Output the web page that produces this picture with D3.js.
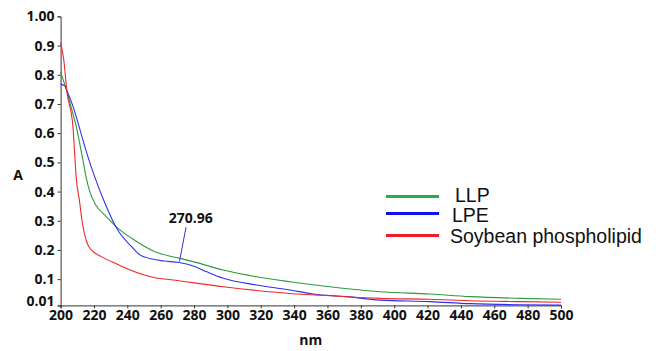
<!DOCTYPE html>
<html>
<head>
<meta charset="utf-8">
<script src="https://cdn.jsdelivr.net/npm/d3@7"></script>
<style>
  body { margin: 0; background: #fff; }
  svg { display: block; }
</style>
</head>
<body>
<svg id="chart" width="656" height="351"></svg>
<script>
// wavelength (nm) / absorbance readings, per sample
const llpNm  = [200, 203.8, 206.8, 209.4, 211.6, 213.4, 215.4, 217.6, 221.2, 226.6, 234.4, 242.6, 256.6, 259.6, 271.6, 279.5, 297.5, 317.5, 337.5, 361.5, 391.4, 421.4, 445.4, 475.3, 500];
const llpA   = [0.81, 0.742, 0.679, 0.622, 0.560, 0.508, 0.446, 0.398, 0.353, 0.319, 0.274, 0.240, 0.194, 0.188, 0.171, 0.160, 0.131, 0.108, 0.091, 0.074, 0.057, 0.049, 0.040, 0.034, 0.031];

const lpeNm  = [200, 202.5, 204.4, 206.8, 209.4, 212.8, 216.4, 220.4, 226.6, 233.6, 242.6, 247.6, 255.6, 262, 270.96, 279.5, 287.6, 297.5, 317.5, 337.5, 351.5, 371.5, 391.4, 421.4, 445.4, 475.3, 500];
const lpeA   = [0.768, 0.762, 0.737, 0.702, 0.656, 0.588, 0.519, 0.451, 0.360, 0.274, 0.211, 0.183, 0.168, 0.162, 0.157, 0.145, 0.125, 0.103, 0.080, 0.063, 0.049, 0.040, 0.028, 0.023, 0.016, 0.012, 0.011];

const soyNm  = [200, 201.9, 203.8, 207.4, 209.5, 211.3, 212.8, 214.5, 216.4, 218.4, 224.4, 234.4, 240.6, 256.6, 267.6, 297.5, 337.5, 361.5, 391.4, 421.4, 445.4, 475.3, 500];
const soyA   = [0.91, 0.851, 0.742, 0.622, 0.439, 0.369, 0.301, 0.251, 0.217, 0.200, 0.177, 0.150, 0.134, 0.105, 0.097, 0.074, 0.051, 0.043, 0.034, 0.031, 0.026, 0.023, 0.021];

const seriesNames = ['LLP', 'LPE', 'Soybean phospholipid'];
const xTicks = d3.range(200, 501, 20);
const yTicks = [0.01, 0.1, 0.2, 0.3, 0.4, 0.5, 0.6, 0.7, 0.8, 0.9, 1.0];
const yTickLabels = ['0.01', '0.1', '0.2', '0.3', '0.4', '0.5', '0.6', '0.7', '0.8', '0.9', '1.00'];
const peakNm = 270.96;
const peakLabel = '270.96';

const curveColors = ['#2e9a3c', '#3030f0', '#f02828'];
const legendColors = ['#22b04a', '#1010f0', '#f01c28'];

const svg = d3.select('#chart');

const x = d3.scaleLinear().domain([200, 500]).range([60.6, 561]);
const y = d3.scaleLinear().domain([0.01, 1.0]).range([305.4, 16.4]);

const tickFont = "'Open Sans', sans-serif";

// Y axis
const yAxis = svg.append('g')
  .attr('transform', `translate(${x(200)},0)`)
  .call(d3.axisLeft(y).tickValues(yTicks).tickSize(3).tickPadding(3)
    .tickFormat((d, i) => yTickLabels[i]));

// X axis
const xAxis = svg.append('g')
  .attr('transform', `translate(0,${y(0.01)})`)
  .call(d3.axisBottom(x).tickValues(xTicks).tickSize(3).tickPadding(2));

[xAxis, yAxis].forEach(a => {
  a.select('.domain').attr('stroke', '#333').attr('stroke-width', 1);
  a.selectAll('.tick line').attr('stroke', '#333');
  a.selectAll('text')
    .style('font-family', tickFont)
    .style('font-weight', '700')
    .style('font-size', '14px')
    .attr('fill', '#111');
});

// bottom y label sits just above the x axis
yAxis.selectAll('.tick text').filter(d => d === 0.01).attr('y', -4);

// Axis titles
svg.append('text')
  .attr('x', 18).attr('y', 180)
  .attr('text-anchor', 'middle')
  .style('font-family', tickFont).style('font-weight', '700').style('font-size', '14px')
  .attr('fill', '#111')
  .text('A');

svg.append('text')
  .attr('x', x(350)).attr('y', 345)
  .attr('text-anchor', 'middle')
  .style('font-family', tickFont).style('font-weight', '700').style('font-size', '14px')
  .attr('fill', '#111')
  .text('nm');

// Curves
const line = d3.line()
  .x(d => x(d[0]))
  .y(d => y(d[1]))
  .curve(d3.curveMonotoneX);

const series = [
  d3.zip(llpNm, llpA),
  d3.zip(lpeNm, lpeA),
  d3.zip(soyNm, soyA)
];

series.forEach((pts, i) => {
  svg.append('path')
    .datum(pts)
    .attr('fill', 'none')
    .attr('stroke', curveColors[i])
    .attr('stroke-width', 1.1)
    .attr('d', line);
});

// Peak annotation
const peakA = lpeA[lpeNm.indexOf(peakNm)];
svg.append('line')
  .attr('x1', x(peakNm) + 0.5).attr('y1', y(peakA) - 1)
  .attr('x2', x(275.2)).attr('y2', y(0.278))
  .attr('stroke', curveColors[1]).attr('stroke-width', 1);

svg.append('text')
  .attr('x', x(278)).attr('y', 223)
  .attr('text-anchor', 'middle')
  .style('font-family', tickFont).style('font-weight', '700').style('font-size', '14px')
  .attr('fill', '#111')
  .text(peakLabel);

// Legend
const legendY = [196.5, 213.5, 235.5];
const legendText = [{ x: 455, y: 202 }, { x: 452, y: 222 }, { x: 450, y: 243 }];
const legend = svg.append('g');
seriesNames.forEach((name, i) => {
  legend.append('line')
    .attr('x1', 386).attr('x2', 439)
    .attr('y1', legendY[i]).attr('y2', legendY[i])
    .attr('stroke', legendColors[i])
    .attr('stroke-width', 3);
  legend.append('text')
    .attr('x', legendText[i].x).attr('y', legendText[i].y)
    .style('font-family', "'Liberation Sans', Arial, sans-serif")
    .style('font-size', '19.5px')
    .attr('fill', '#111')
    .text(name);
});
</script>
</body>
</html>
